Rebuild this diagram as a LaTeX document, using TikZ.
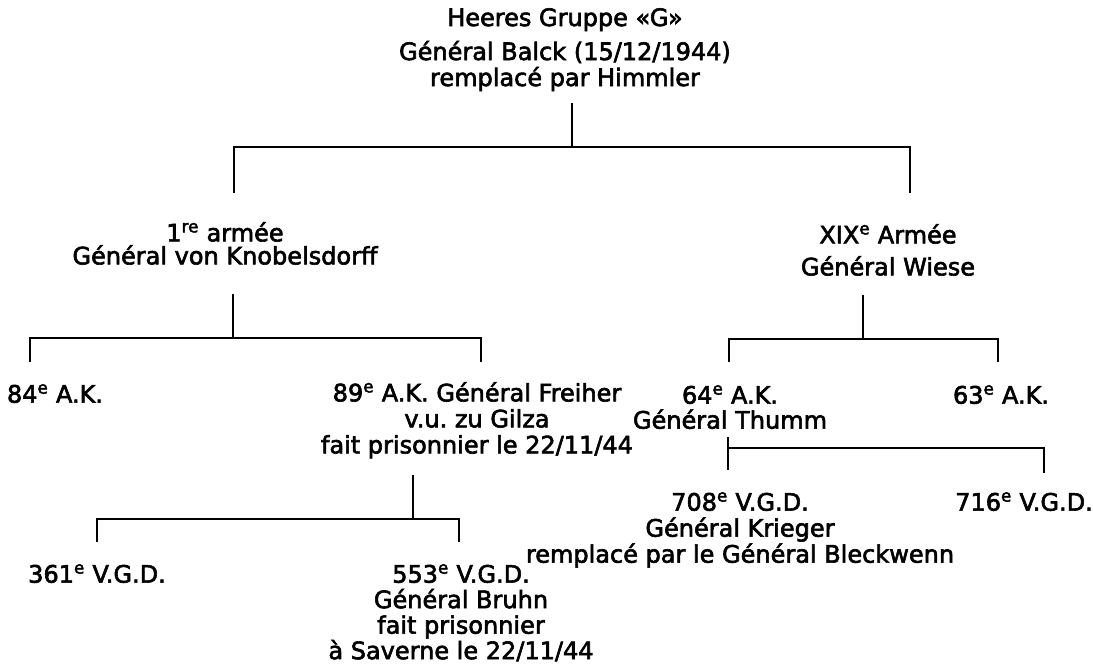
\documentclass[tikz,border=0pt]{standalone}
\usepackage{fontspec}
\setmainfont{DejaVu Sans}[FakeBold=2.5]
\frenchspacing
\begin{document}
\begin{tikzpicture}[%
            x=1pt, y=-1pt,
            unit/.style={anchor=north, align=center, inner sep=0pt,
                font=\fontsize{24}{26}\selectfont},
            link/.style={line width=2.6pt}
    ]
        \fill [white] (0,0) rectangle (1093,665);
        \useasboundingbox (0,0) rectangle (1093,665);

        % units
        \node [unit] (hg) at (565,8) {Heeres Gruppe «G»\\[8pt] Général Balck (15/12/1944)\\ remplacé par Himmler};
        \node [unit] (a1) at (225,222) {1\textsuperscript{re} armée\\[-3pt] Général von Knobelsdorff};
        \node [unit] (a19) at (888,224) {XIX\textsuperscript{e} Armée\\[6pt] Général Wiese};
        \node [unit] (k84) at (55,384) {84\textsuperscript{e} A.K.};
        \node [unit] (k89) at (477,382) {89\textsuperscript{e} A.K. Général Freiher\\ v.u. zu Gilza\\ fait prisonnier le 22/11/44};
        \node [unit] (k64) at (730,385) {64\textsuperscript{e} A.K.\\[-1pt] Général Thumm};
        \node [unit] (k63) at (1001,385) {63\textsuperscript{e} A.K.};
        \node [unit] (d361) at (97,564) {361\textsuperscript{e} V.G.D.};
        \node [unit] (d553) at (461,564) {553\textsuperscript{e} V.G.D.\\[-0.5pt] Général Bruhn\\[-0.5pt] fait prisonnier\\[-0.5pt] à Saverne le 22/11/44};
        \node [unit] (d708) at (740,492) {708\textsuperscript{e} V.G.D.\\ Général Krieger\\ remplacé par le Général Bleckwenn};
        \node [unit] (d716) at (1024,492) {716\textsuperscript{e} V.G.D.};

        % brackets
        \coordinate (hg-out) at (572,103);
        \coordinate (a1-in) at (234,193);
        \coordinate (a19-in) at (910,193);
        \draw [link] (hg-out) -- ++(0,44);
        \draw [link] (a1-in) -- ++(0,-46) -| (a19-in);

        \coordinate (a1-out) at (233,294);
        \coordinate (k84-in) at (30,362);
        \coordinate (k89-in) at (481,362);
        \draw [link] (a1-out) -- ++(0,44);
        \draw [link] (k84-in) -- ++(0,-24) -| (k89-in);

        \coordinate (a19-out) at (863,295);
        \coordinate (k64-in) at (729,362);
        \coordinate (k63-in) at (998,362);
        \draw [link] (a19-out) -- ++(0,44);
        \draw [link] (k64-in) -- ++(0,-23) -| (k63-in);

        \coordinate (k89-out) at (413,475);
        \coordinate (d361-in) at (97,542);
        \coordinate (d553-in) at (459,542);
        \draw [link] (k89-out) -- ++(0,44);
        \draw [link] (d361-in) -- ++(0,-23) -| (d553-in);

        \coordinate (k64-out) at (728,437);
        \coordinate (d708-in) at (728,470);
        \coordinate (d716-in) at (1044,473);
        \draw [link] (k64-out) -- (d708-in);
        \draw [link] (k64-out |- 0,448) -| (d716-in);
    \end{tikzpicture}
\end{document}
